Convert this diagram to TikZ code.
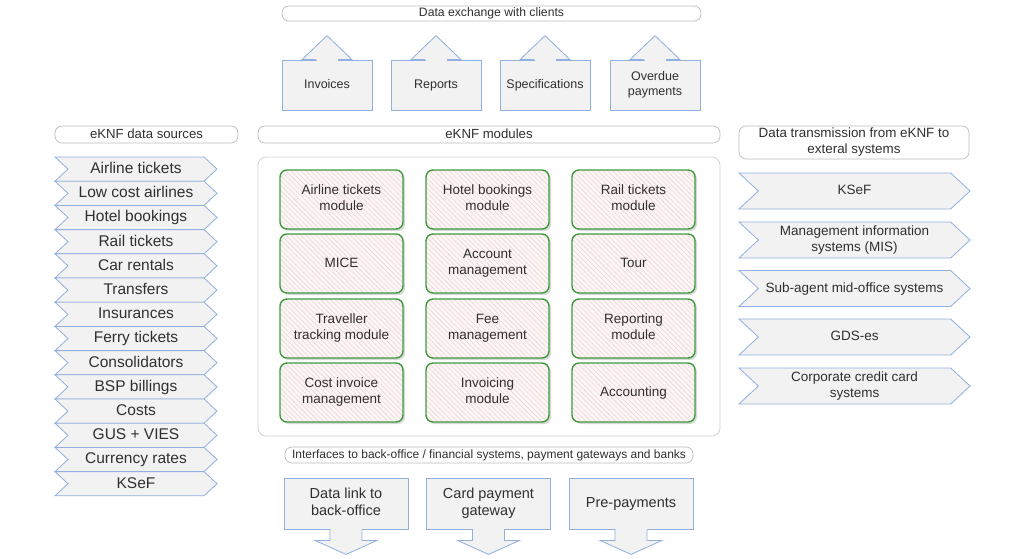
\documentclass[tikz,border=0pt]{standalone}
\usepackage{fontspec}
\setmainfont{Liberation Sans}
\usetikzlibrary{shapes.symbols,patterns.meta,shadows}
\definecolor{txt}{HTML}{303030}
\definecolor{edge}{HTML}{8FB0E0}
\definecolor{paper}{HTML}{F2F2F2}
\definecolor{modgreen}{HTML}{3D9B3D}
\definecolor{hatch}{HTML}{E6DADA}
\definecolor{frame}{HTML}{D2D2D2}
\definecolor{pillc}{HTML}{BDBDBD}
\newcommand{\setfs}[2]{\fontsize{#1}{#2}\selectfont}
\newcommand{\vstrut}{\rule[-0.22em]{0pt}{1em}}
% arrow head on top of a box, arrow below a box
\newcommand{\uptip}[1]{%
  \draw[blk] ([xshift=-11pt]#1.north) -- ([xshift=-25pt]#1.north) -- ([yshift=24pt]#1.north) -- ([xshift=25pt]#1.north) -- ([xshift=11pt]#1.north);
  \fill[paper] ([xshift=-10.5pt,yshift=-1pt]#1.north) rectangle ([xshift=10.5pt,yshift=1pt]#1.north);}
\newcommand{\downtip}[1]{%
  \draw[blk] ([xshift=-16pt]#1.south) -- ([xshift=-16pt,yshift=-11pt]#1.south) -- ([xshift=-31pt,yshift=-11pt]#1.south) -- ([yshift=-25pt]#1.south) -- ([xshift=31pt,yshift=-11pt]#1.south) -- ([xshift=16pt,yshift=-11pt]#1.south) -- ([xshift=16pt]#1.south);
  \fill[paper] ([xshift=-15.5pt,yshift=1pt]#1.south) rectangle ([xshift=15.5pt,yshift=-1pt]#1.south);}

\begin{document}
\begin{tikzpicture}[
  x=1pt, y=-1pt,
  font=\setfs{13.5}{16},
  every node/.append style={align=center, text=txt, execute at begin node=\vstrut, execute at end node=\vstrut},
  pill/.style={draw=pillc, rounded corners=7pt, fill=white, inner sep=0pt, line width=0.7pt},
  blk/.style={draw=edge, fill=paper, line width=0.8pt},
  box/.style={blk, minimum width=90pt, minimum height=50pt, inner sep=0pt, font=\setfs{12.5}{15}},
  outbox/.style={blk, minimum width=124pt, minimum height=51pt, inner sep=0pt, font=\setfs{14.5}{16.5}},
  src/.style={blk, signal, signal from=west, signal to=east, signal pointer angle=86,
    minimum width=162pt, minimum height=24.2pt, inner sep=0pt, font=\setfs{15.5}{17}},
  ext/.style={blk, signal, signal from=west, signal to=east, signal pointer angle=86,
    minimum width=231pt, minimum height=36pt, inner sep=0pt},
  mod/.style={draw=modgreen, line width=1.4pt, rounded corners=7pt, minimum width=123pt, minimum height=59pt,
    inner sep=0pt, drop shadow={shadow xshift=2pt, shadow yshift=-2pt, opacity=0.25, fill=black!60},
    preaction={fill=white!96!red}, pattern={Lines[angle=135,distance=3.5pt,line width=0.6pt]}, pattern color=hatch}
]
\path[use as bounding box, fill=white] (0,0) rectangle (1024,558);

% data exchange with clients
\node[pill, minimum width=419pt, minimum height=15pt, font=\setfs{12.2}{13}] (clients) at (491.5,13.5) {Data exchange with clients};
\node[box] (inv)  at (327,85) {Invoices};
\node[box] (rep)  at (436,85) {Reports};
\node[box] (spec) at (545,85) {Specifications};
\node[box] (due)  at (655,85) {Overdue\\payments};
\uptip{inv} \uptip{rep} \uptip{spec} \uptip{due}

% headers
\node[pill, minimum width=183pt, minimum height=17pt, font=\setfs{13.2}{14}] (srclab) at (146.5,134.5) {eKNF data sources};
\node[pill, minimum width=462pt, minimum height=17pt, font=\setfs{13.2}{14}] (modlab) at (489,134.5) {eKNF modules};
\node[pill, minimum width=230pt, minimum height=33pt, font=\setfs{13.4}{16}] (extlab) at (854,142.5) {Data transmission from eKNF to\\exteral systems};

% data sources
\node[src] (sAir)   at (136,169.1) {Airline tickets};
\node[src] (sLcc)   at (136,193.3) {Low cost airlines};
\node[src] (sHotel) at (136,217.5) {Hotel bookings};
\node[src] (sRail)  at (136,241.7) {Rail tickets};
\node[src] (sCar)   at (136,265.9) {Car rentals};
\node[src] (sTrf)   at (136,290.1) {Transfers};
\node[src] (sIns)   at (136,314.3) {Insurances};
\node[src] (sFerry) at (136,338.5) {Ferry tickets};
\node[src] (sCons)  at (136,362.7) {Consolidators};
\node[src] (sBsp)   at (136,386.9) {BSP billings};
\node[src] (sCost)  at (136,411.1) {Costs};
\node[src] (sGus)   at (136,435.3) {GUS + VIES};
\node[src] (sCur)   at (136,459.5) {Currency rates};
\node[src] (sKsef)  at (136,483.7) {KSeF};

% modules
\node[draw=frame, line width=0.8pt, rounded corners=8pt, minimum width=462pt, minimum height=279pt] (modframe) at (489,296.5) {};
\node[mod] (air)   at (341.5,199.5) {Airline tickets\\module};
\node[mod] (hotel) at (487.5,199.5) {Hotel bookings\\module};
\node[mod] (rail)  at (633.5,199.5) {Rail tickets\\module};
\node[mod] (mice)  at (341.5,263.5) {MICE};
\node[mod] (acct)  at (487.5,263.5) {Account\\management};
\node[mod] (tour)  at (633.5,263.5) {Tour};
\node[mod] (track) at (341.5,328.5) {Traveller\\tracking module};
\node[mod] (fee)   at (487.5,328.5) {Fee\\management};
\node[mod] (repm)  at (633.5,328.5) {Reporting\\module};
\node[mod] (cinv)  at (341.5,392.5) {Cost invoice\\management};
\node[mod] (invm)  at (487.5,392.5) {Invoicing\\module};
\node[mod] (accg)  at (633.5,392.5) {Accounting};

% external systems
\node[ext] (eKsef) at (854.5,191)   {KSeF};
\node[ext] (eMis)  at (854.5,240)   {Management information\\systems (MIS)};
\node[ext] (eSub)  at (854.5,288.5) {Sub-agent mid-office systems};
\node[ext] (eGds)  at (854.5,337)   {GDS-es};
\node[ext] (eCard) at (854.5,386)   {Corporate credit card\\systems};

% back-office interfaces
\node[pill, minimum width=408pt, minimum height=16pt, font=\setfs{12}{13}] (banklab) at (489,455) {Interfaces to back-office / financial systems, payment gateways and banks};
\node[outbox] (blink) at (346,503.5)   {Data link to\\back-office};
\node[outbox] (card)  at (488.5,503.5) {Card payment\\gateway};
\node[outbox] (prep)  at (631,503.5)   {Pre-payments};
\downtip{blink} \downtip{card} \downtip{prep}
\end{tikzpicture}
\end{document}
